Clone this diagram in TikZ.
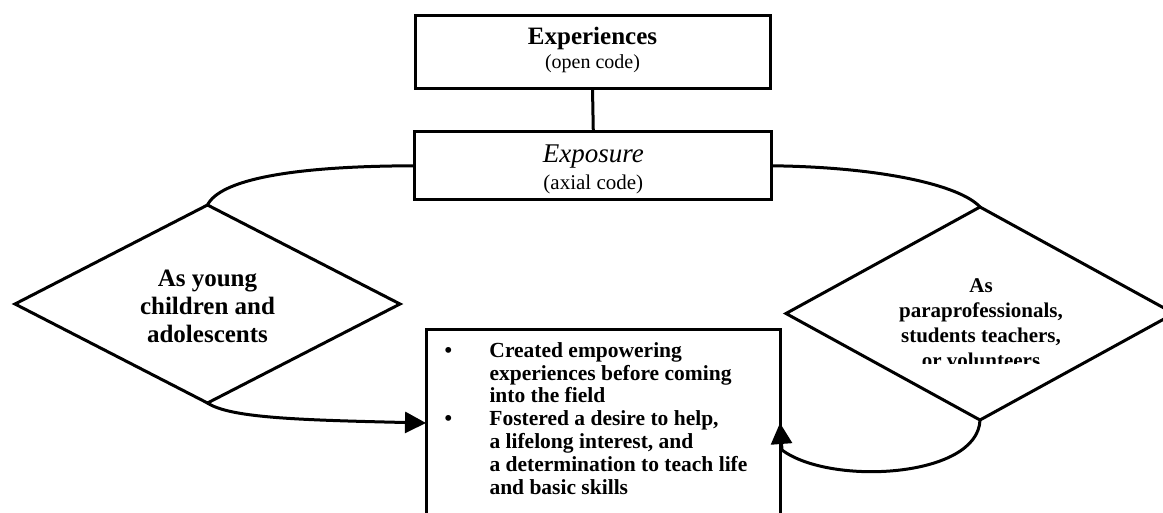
\documentclass[tikz,border=0pt]{standalone}
\usepackage{fontspec}
\setmainfont{Liberation Serif}
\usetikzlibrary{shapes.geometric,arrows.meta,calc}
\begin{document}
\begin{tikzpicture}[x=1pt,y=-1pt,line width=3pt,
  box/.style={draw,rectangle,inner sep=0pt,outer sep=0pt,align=center},
  dia/.style={draw,diamond,inner sep=0pt,outer sep=0pt,align=center},
  conn/.style={line width=3pt},
  arr/.style={conn,-{Triangle[length=21pt,width=21pt]}}]
\useasboundingbox (0,0) rectangle (1163,513);
\fill[white] (0,0) rectangle (1163,513);
\clip (0,0) rectangle (1163,513);
% top boxes
\node[box,minimum width=355pt,minimum height=73pt,font=\fontsize{20}{22}\selectfont]
  (exper) at (592.5,51.7)
  {\rule{0pt}{20pt}{\fontsize{25}{22}\selectfont\bfseries Experiences}\\[2pt](open code)\rule[-11pt]{0pt}{0pt}};
\node[box,minimum width=357pt,minimum height=68pt,font=\fontsize{21}{27}\selectfont]
  (expo) at (593.3,165.8)
  {\rule{0pt}{28pt}{\fontsize{27}{27}\selectfont\itshape Exposure}\\(axial code)\rule[-7pt]{0pt}{0pt}};
\draw[conn] (exper.south) -- (expo.north);
% diamonds
\node[dia,aspect=1.944,minimum width=385pt,minimum height=198pt,
  font=\fontsize{25}{28}\selectfont\bfseries]
  (ldia) at (207.5,304) {\rule{0pt}{22pt}As young\\children and\\adolescents};
\node[dia,aspect=1.82,minimum width=388pt,minimum height=213pt]
  (rdia) at (980,313.5) {};
\begin{scope}
  \clip (790,200) rectangle (1163,363);
  \node[inner sep=0pt,align=center,font=\fontsize{21}{25}\selectfont\bfseries]
    (rdtext) at (981,324)
    {\rule{0pt}{16pt}As\\paraprofessionals,\\students teachers,\\or volunteers\rule[-4pt]{0pt}{0pt}};
\end{scope}
% bullet box
\node[draw,rectangle,inner sep=0pt,outer sep=0pt,minimum width=354pt,minimum height=186pt]
  (bbox) at (603,423) {};
\node[anchor=base west,inner sep=0pt,font=\fontsize{21.5}{23}\selectfont\bfseries]
  (btext) at (443,357)
  {\begin{tabular}[t]{@{}l@{}l@{}}
   \makebox[45pt][l]{•} & Created empowering\\
    & experiences before coming\\
    & into the field\\
   \makebox[45pt][l]{•} & Fostered a desire to help,\\
    & a lifelong interest, and\\
    & a determination to teach life\\
    & and basic skills
   \end{tabular}};
% connectors
\draw[conn] (expo.west) .. controls (290,166) and (220,180) .. (ldia.north);
\draw[conn] (expo.east) .. controls (880,167) and (960,185) .. (rdia.north);
\draw[arr] (ldia.south) .. controls (230,418) and (300,420) .. (bbox.west);
\coordinate (rjoin) at ($(bbox.east)+(2,27)$);
\draw[arr] (rdia.south) .. controls (978,478) and (830,486) .. (rjoin) -- (bbox.east);
\end{tikzpicture}
\end{document}
